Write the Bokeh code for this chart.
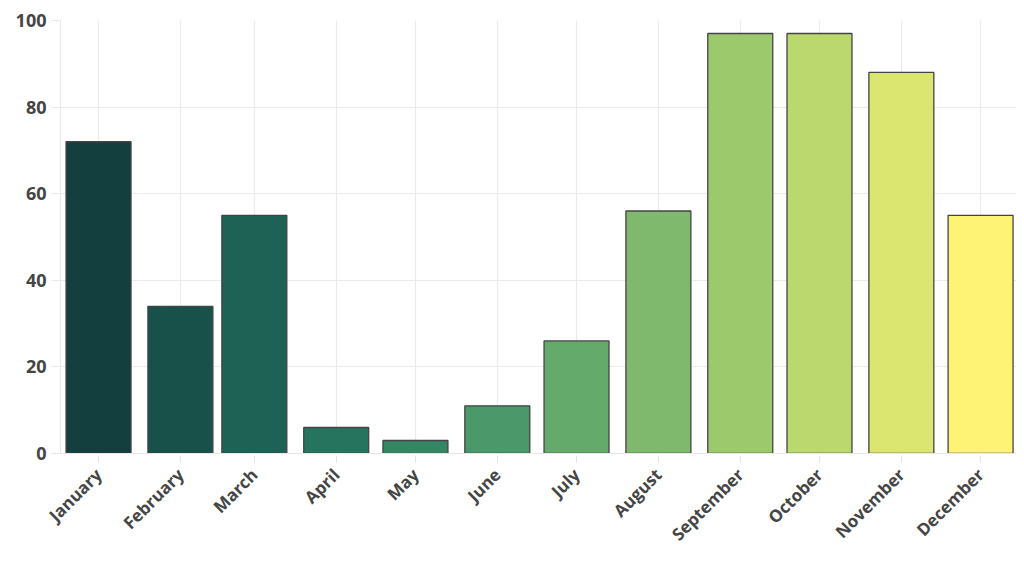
import datetime as dt
from math import pi
from bokeh.plotting import figure
from bokeh.models import ColumnDataSource, FixedTicker, Range1d, CustomJSTickFormatter
from bokeh.embed import file_html
from bokeh.resources import INLINE

months = ["January", "February", "March", "April", "May", "June", "July",
          "August", "September", "October", "November", "December"]
values = [72, 34, 55, 6, 3, 11, 26, 56, 97, 97, 88, 55]
colors = ["#133f3f", "#175149", "#1e6255", "#26735e", "#358664", "#4b996a",
          "#63aa6b", "#7eb96d", "#9bc96c", "#bad86d", "#dbe671", "#fef374"]
year = 2023

dates = [dt.datetime(year, i + 1, 1) for i in range(12)]
DAY = 86400000.0
ms = [(d - dt.datetime(1970, 1, 1)).total_seconds() * 1000 for d in dates]

src = ColumnDataSource(dict(x=dates, top=values, color=colors, month=months))

p = figure(width=1016, height=556, x_axis_type="datetime",
           output_backend="svg", toolbar_location=None,
           min_border_left=60, min_border_top=20, min_border_right=0,
           min_border_bottom=103)
p.x_range = Range1d(ms[0] - 14.4 * DAY, ms[11] + 13.6 * DAY)
p.y_range = Range1d(0, 100)

p.vbar(x="x", top="top", bottom=0, width=24.6 * DAY, source=src,
       fill_color="color", line_color="#444444", line_width=1.3)

p.outline_line_color = None
p.background_fill_color = "white"

FONT = "Open Sans"

xa = p.xaxis[0]
xa.ticker = FixedTicker(ticks=ms)
xa.formatter = CustomJSTickFormatter(code="""
const names = ["January","February","March","April","May","June","July",
               "August","September","October","November","December"];
return names[new Date(tick).getUTCMonth()];
""")
xa.major_label_orientation = pi / 4
xa.axis_line_color = "#e8e8e8"
xa.major_tick_line_color = "#e3e3e3"
xa.major_tick_in = -2
xa.major_tick_out = 9
xa.minor_tick_line_color = None
xa.major_label_text_font = FONT
xa.major_label_text_font_style = "bold"
xa.major_label_text_font_size = "17px"
xa.major_label_text_color = "#454545"
xa.major_label_standoff = 9

ya = p.yaxis[0]
ya.ticker = FixedTicker(ticks=[0, 20, 40, 60, 80, 100])
ya.axis_line_color = "#e8e8e8"
ya.major_tick_line_color = "#e8e8e8"
ya.major_tick_in = 0
ya.major_tick_out = 9
ya.minor_tick_line_color = None
ya.major_label_text_font = FONT
ya.major_label_text_font_style = "bold"
ya.major_label_text_font_size = "18px"
ya.major_label_text_color = "#454545"
ya.major_label_standoff = 5

p.xgrid.grid_line_color = "#ebebeb"
p.xgrid.grid_line_width = 1.2
p.ygrid.grid_line_color = "#ebebeb"
p.ygrid.grid_line_width = 1.2

open("out.html", "w").write(file_html(p, INLINE))
